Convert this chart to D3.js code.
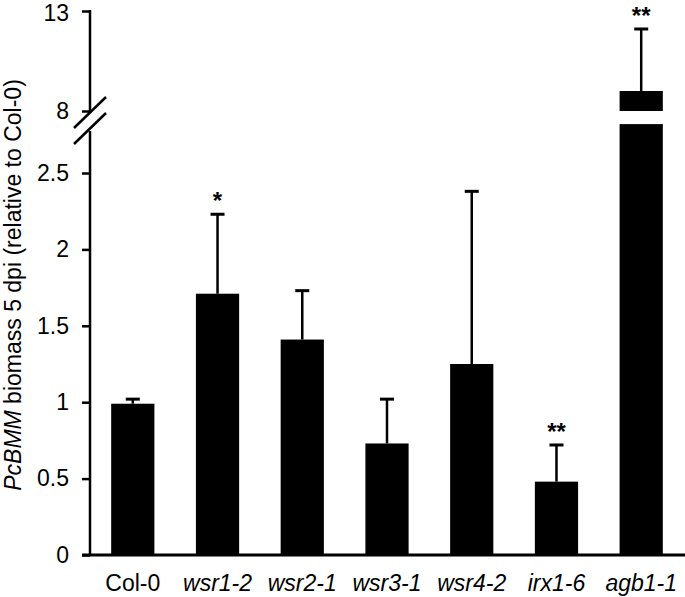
<!DOCTYPE html>
<html>
<head>
<meta charset="utf-8">
<script src="https://cdn.jsdelivr.net/npm/d3@7"></script>
<style>
  body { margin: 0; background: #fff; }
  svg { display: block; font-family: "Liberation Sans", Arial, sans-serif; }
</style>
</head>
<body>
<svg id="chart" width="685" height="597"></svg>
<script>
// data
const categories = ["Col-0", "wsr1-2", "wsr2-1", "wsr3-1", "wsr4-2", "irx1-6", "agb1-1"];
const italicLabel = [false, true, true, true, true, true, true];
const means = [0.99, 1.71, 1.41, 0.73, 1.25, 0.48, 9.0];
const errors = [0.03, 0.52, 0.32, 0.29, 1.13, 0.24, 3.1];
const stars = ["", "*", "", "", "", "**", "**"];
const lowerTicks = [0, 0.5, 1, 1.5, 2, 2.5];
const upperTicks = [8, 13];

const svg = d3.select("#chart");
const axisX = 90;
const lowerMax = 2.82;   // top of the lower segment
const breakVal = 8;      // bottom of the upper segment

const x = d3.scaleBand().domain(categories)
    .range([axisX, 684]).paddingInner(0.49).paddingOuter(0.25);
const yLow = d3.scaleLinear().domain([0, 2.5]).range([555, 173]);
const yUp = d3.scaleLinear().domain([8, 13]).range([111, 11]);

const y = v => v <= lowerMax ? yLow(v) : yUp(v);

const rows = categories.map((c, i) => ({
    name: c, mean: means[i], err: errors[i], star: stars[i], italic: italicLabel[i]
}));

// bars
const bars = svg.append("g");
rows.forEach(d => {
    const x0 = x(d.name);
    if (d.mean <= lowerMax) {
        bars.append("rect").attr("x", x0).attr("width", x.bandwidth())
            .attr("y", yLow(d.mean)).attr("height", yLow(0) - yLow(d.mean))
            .attr("fill", "#000");
    } else {
        bars.append("rect").attr("x", x0).attr("width", x.bandwidth())
            .attr("y", yLow(lowerMax)).attr("height", yLow(0) - yLow(lowerMax))
            .attr("fill", "#000");
        bars.append("rect").attr("x", x0).attr("width", x.bandwidth())
            .attr("y", yUp(d.mean)).attr("height", yUp(breakVal) - yUp(d.mean))
            .attr("fill", "#000");
    }
});

// upper error bars
const err = svg.append("g").attr("stroke", "#000");
rows.forEach(d => {
    const cx = x(d.name) + x.bandwidth() / 2;
    const top = y(d.mean + d.err);
    err.append("line").attr("x1", cx).attr("x2", cx)
        .attr("y1", y(d.mean)).attr("y2", top).attr("stroke-width", 2.5);
    err.append("line").attr("x1", cx - 7).attr("x2", cx + 7)
        .attr("y1", top).attr("y2", top).attr("stroke-width", 3);
    if (d.star) {
        svg.append("text").attr("x", cx).attr("y", top - 5)
            .attr("text-anchor", "middle")
            .attr("font-size", 24).attr("font-weight", "bold")
            .text(d.star);
    }
});

// y axes
const lowAxis = svg.append("g").attr("transform", `translate(${axisX},0)`)
    .call(d3.axisLeft(yLow).tickValues(lowerTicks).tickSize(8).tickPadding(13)
        .tickFormat(d3.format("~g")));
const upAxis = svg.append("g").attr("transform", `translate(${axisX},0)`)
    .call(d3.axisLeft(yUp).tickValues(upperTicks).tickSize(8).tickPadding(13)
        .tickFormat(d3.format("~g")));
[lowAxis, upAxis].forEach(g => {
    g.select(".domain").remove();
    g.selectAll(".tick line").attr("stroke", "#000").attr("stroke-width", 2.5);
    g.selectAll(".tick text").attr("fill", "#000")
        .attr("font-size", 23).attr("font-family", "Liberation Sans, Arial, sans-serif");
});
// keep the top label inside the frame
upAxis.selectAll(".tick text").filter(d => d === 13).attr("dy", "0.42em");

const axisLines = svg.append("g").attr("stroke", "#000").attr("stroke-width", 2.5);
axisLines.append("line").attr("x1", axisX).attr("x2", axisX)
    .attr("y1", yLow(0)).attr("y2", 131);
axisLines.append("line").attr("x1", axisX).attr("x2", axisX)
    .attr("y1", yUp(13) - 1).attr("y2", 113);
// break marks
axisLines.append("line").attr("x1", axisX - 16).attr("y1", 128)
    .attr("x2", axisX + 16).attr("y2", 97);
axisLines.append("line").attr("x1", axisX - 16).attr("y1", 144)
    .attr("x2", axisX + 16).attr("y2", 113);

// baseline
svg.append("line").attr("x1", 82).attr("x2", 685)
    .attr("y1", yLow(0)).attr("y2", yLow(0))
    .attr("stroke", "#000").attr("stroke-width", 3);

// category labels
svg.append("g").selectAll("text").data(rows).join("text")
    .attr("x", d => x(d.name) + x.bandwidth() / 2)
    .attr("y", 591)
    .attr("text-anchor", "middle")
    .attr("font-size", 23)
    .attr("font-style", d => d.italic ? "italic" : "normal")
    .text(d => d.name);

// y title
const title = svg.append("text")
    .attr("transform", "translate(20.5,285) rotate(-90)")
    .attr("text-anchor", "middle")
    .attr("font-size", 23);
title.append("tspan").attr("font-style", "italic").text("PcBMM");
title.append("tspan").text(" biomass 5 dpi (relative to Col-0)");
</script>
</body>
</html>
